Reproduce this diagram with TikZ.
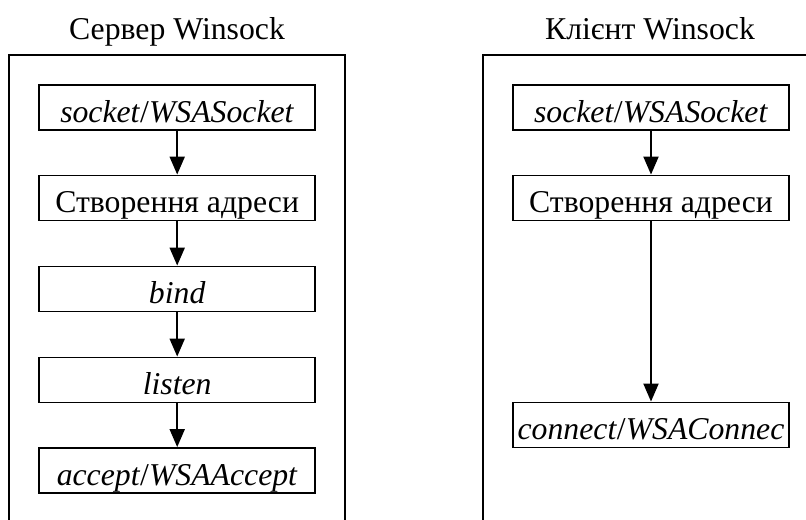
\documentclass[tikz,border=0pt]{standalone}
\usepackage{fontspec}
\setmainfont{Liberation Serif}
\usetikzlibrary{arrows.meta}
\begin{document}
\begin{tikzpicture}[x=0.75pt,y=-0.75pt,
  frameline/.style={line width=1.5pt},
  stepbox/.style={draw, line width=1.4pt, minimum width=207pt, minimum height=33.75pt, inner sep=0pt,
    text height=26pt, text depth=4.2pt, font=\fontsize{23.8}{28}\selectfont},
  titletext/.style={inner sep=0pt, anchor=base, font=\fontsize{23.8}{28}\selectfont},
  flow/.style={line width=1.5pt, -{Triangle[width=11.25pt,length=13.5pt]}}]
\useasboundingbox (0,0) rectangle (806,519);
% frames
\draw[frameline] (9,520) -- (9,55) -- (345,55) -- (345,520);
\draw[frameline] (483,520) -- (483,55) -- (807,55);
% titles
\node[titletext] (t1) at (177,39) {Сервер Winsock};
\node[titletext] (t2) at (650,39) {Клієнт Winsock};
% server
\node[stepbox] (s1) at (177.2,107.5) {\textit{socket}/\textit{WSASocket}};
\node[stepbox] (s2) at (177.2,198) {Створення адреси};
\node[stepbox] (s3) at (177.2,289) {\textit{bind}};
\node[stepbox] (s4) at (177.2,380) {\textit{listen}};
\node[stepbox] (s5) at (177.2,470.5) {\textit{accept}/\textit{WSAAccept}};
% client
\node[stepbox] (c1) at (651,107.5) {\textit{socket}/\textit{WSASocket}};
\node[stepbox] (c2) at (651,198) {Створення адреси};
\node[stepbox] (c3) at (651,425) {\textit{connect}/\textit{WSAConnec}};
% arrows
\draw[flow] (s1) -- (s2);
\draw[flow] (s2) -- (s3);
\draw[flow] (s3) -- (s4);
\draw[flow] (s4) -- (s5);
\draw[flow] (c1) -- (c2);
\draw[flow] (c2) -- (c3);
\end{tikzpicture}
\end{document}
